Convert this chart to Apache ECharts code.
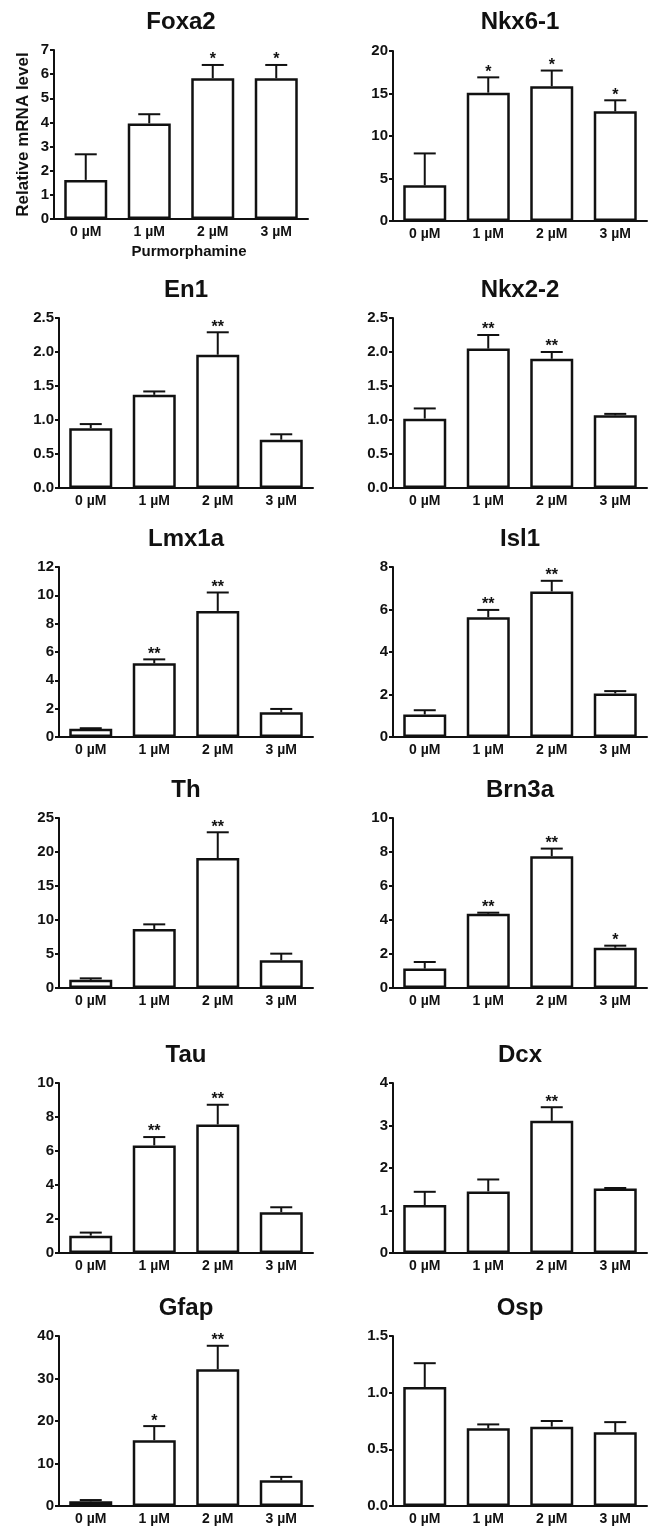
<!DOCTYPE html>
<html>
<head>
<meta charset="utf-8">
<script src="https://cdn.jsdelivr.net/npm/echarts@6/dist/echarts.min.js"></script>
<style>
html,body{margin:0;padding:0;background:#fff;}
#chart{width:650px;height:1526px;}
</style>
</head>
<body>
<div id="chart"></div>
<script>
// ---------- data ----------
const categories = ['0 µM', '1 µM', '2 µM', '3 µM'];
const xAxisTitle = 'Purmorphamine';
const yAxisTitle = 'Relative mRNA level';

const geneNames = ['Foxa2', 'Nkx6-1', 'En1', 'Nkx2-2', 'Lmx1a', 'Isl1', 'Th', 'Brn3a', 'Tau', 'Dcx', 'Gfap', 'Osp'];

const foxa2Mean = [1.62, 3.96, 5.83, 5.83];
const foxa2Sem  = [1.06, 0.38, 0.55, 0.55];
const foxa2Sig  = ['', '', '*', '*'];

const nkx61Mean = [4.2, 15.1, 15.85, 12.9];
const nkx61Sem  = [3.75, 1.8, 1.85, 1.3];
const nkx61Sig  = ['', '*', '*', '*'];

const en1Mean = [0.88, 1.37, 1.96, 0.71];
const en1Sem  = [0.06, 0.05, 0.33, 0.08];
const en1Sig  = ['', '', '**', ''];

const nkx22Mean = [1.02, 2.05, 1.90, 1.07];
const nkx22Sem  = [0.15, 0.20, 0.10, 0.02];
const nkx22Sig  = ['', '**', '**', ''];

const lmx1aMean = [0.59, 5.2, 8.9, 1.74];
const lmx1aSem  = [0.03, 0.28, 1.3, 0.24];
const lmx1aSig  = ['', '**', '**', ''];

const isl1Mean = [1.06, 5.64, 6.85, 2.05];
const isl1Sem  = [0.2, 0.34, 0.5, 0.11];
const isl1Sig  = ['', '**', '**', ''];

const thMean = [1.2, 8.68, 19.1, 4.07];
const thSem  = [0.22, 0.68, 3.8, 0.98];
const thSig  = ['', '', '**', ''];

const brn3aMean = [1.14, 4.37, 7.75, 2.37];
const brn3aSem  = [0.39, 0.06, 0.45, 0.12];
const brn3aSig  = ['', '**', '**', '*'];

const tauMean = [1.02, 6.33, 7.56, 2.4];
const tauSem  = [0.18, 0.49, 1.16, 0.29];
const tauSig  = ['', '**', '**', ''];

const dcxMean = [1.13, 1.45, 3.11, 1.52];
const dcxSem  = [0.31, 0.28, 0.32, 0.01];
const dcxSig  = ['', '', '**', ''];

const gfapMean = [1.1, 15.5, 32.2, 6.06];
const gfapSem  = [0.3, 3.3, 5.5, 0.79];
const gfapSig  = ['', '*', '**', ''];

const ospMean = [1.05, 0.685, 0.70, 0.65];
const ospSem  = [0.21, 0.035, 0.05, 0.09];
const ospSig  = ['', '', '', ''];

// y axis ranges (max) and tick intervals
const yMaxes    = [7, 20, 2.5, 2.5, 12, 8, 25, 10, 10, 4, 40, 1.5];
const yIntervals = [1, 5, 0.5, 0.5, 2, 2, 5, 2, 2, 1, 10, 0.5];

const means = [foxa2Mean, nkx61Mean, en1Mean, nkx22Mean, lmx1aMean, isl1Mean, thMean, brn3aMean, tauMean, dcxMean, gfapMean, ospMean];
const sems  = [foxa2Sem, nkx61Sem, en1Sem, nkx22Sem, lmx1aSem, isl1Sem, thSem, brn3aSem, tauSem, dcxSem, gfapSem, ospSem];
const sigs  = [foxa2Sig, nkx61Sig, en1Sig, nkx22Sig, lmx1aSig, isl1Sig, thSig, brn3aSig, tauSig, dcxSig, gfapSig, ospSig];

// ---------- layout ----------
const FONT = '"Liberation Sans", Arial, Helvetica, sans-serif';
const rowTops = [50, 318, 567, 818, 1083, 1336];
const gridH = 170;
const gridW = 254;
const leftX = [54, 59, 59, 59, 59, 59];
const rightX = 393;

const chart = echarts.init(document.getElementById('chart'), null, {renderer: 'canvas'});

const grids = [], xAxes = [], yAxes = [], series = [], titles = [];

for (let i = 0; i < 12; i++) {
  const row = Math.floor(i / 2), col = i % 2;
  const left = col === 0 ? leftX[row] : rightX;
  const top = rowTops[row] + (i === 1 ? 1 : 0);
  const h = (i === 0 ? gridH - 1 : gridH);
  grids.push({left: left, top: top, width: gridW, height: h, containLabel: false});

  titles.push({
    text: geneNames[i],
    left: left + gridW / 2,
    top: rowTops[row] - 40,
    textAlign: 'center',
    padding: 0,
    textStyle: {fontFamily: FONT, fontWeight: 'bold', fontSize: 24, color: '#111'}
  });

  const xa = {
    type: 'category', gridIndex: i, data: categories,
    axisLine: {lineStyle: {color: '#111', width: 2}},
    axisTick: {alignWithLabel: true, length: 5, lineStyle: {color: '#111', width: 2}},
    axisLabel: {fontFamily: FONT, fontWeight: 'bold', fontSize: 14, color: '#111', margin: 6},
    splitLine: {show: false}
  };
  if (i === 0) {
    xa.name = xAxisTitle;
    xa.nameLocation = 'middle';
    xa.nameGap = 25;
    xa.nameTextStyle = {fontFamily: FONT, fontWeight: 'bold', fontSize: 15, color: '#111', padding: [0, 0, 0, 16]};
  }
  xAxes.push(xa);

  const interval = yIntervals[i];
  const ya = {
    type: 'value', gridIndex: i, min: 0, max: yMaxes[i], interval: interval,
    axisLine: {show: true, lineStyle: {color: '#111', width: 2}},
    axisTick: {show: true, length: 4, lineStyle: {color: '#111', width: 2}},
    axisLabel: {
      fontFamily: FONT, fontWeight: 'bold', fontSize: 15, color: '#111', margin: 5,
      formatter: (v) => interval < 1 ? v.toFixed(1) : String(v)
    },
    splitLine: {show: false}
  };
  if (i === 0) {
    ya.name = yAxisTitle;
    ya.nameLocation = 'middle';
    ya.nameGap = 22;
    ya.nameTextStyle = {fontFamily: FONT, fontWeight: 'bold', fontSize: 17, color: '#111'};
  }
  yAxes.push(ya);

  series.push({
    type: 'bar', xAxisIndex: i, yAxisIndex: i,
    data: means[i],
    barWidth: 43,
    itemStyle: {color: '#fff', borderColor: '#111', borderWidth: 2.5},
    z: 2,
    silent: true
  });

  const sigArr = sigs[i];
  series.push({
    type: 'custom', xAxisIndex: i, yAxisIndex: i,
    data: means[i].map((m, k) => [k, m, sems[i][k]]),
    z: 3,
    silent: true,
    renderItem: function (params, api) {
      const x = api.value(0), m = api.value(1), e = api.value(2);
      const base = api.coord([x, m]);
      const tp = api.coord([x, m + e]);
      const half = 11;
      const children = [
        {type: 'line', shape: {x1: base[0], y1: base[1], x2: tp[0], y2: tp[1]}, style: {stroke: '#111', lineWidth: 2}},
        {type: 'line', shape: {x1: tp[0] - half, y1: tp[1], x2: tp[0] + half, y2: tp[1]}, style: {stroke: '#111', lineWidth: 2}}
      ];
      const s = sigArr[params.dataIndex];
      if (s) {
        children.push({
          type: 'text',
          style: {text: s, x: tp[0], y: tp[1] + 3, align: 'center', verticalAlign: 'bottom',
                  font: 'bold 16px ' + FONT, fill: '#111'}
        });
      }
      return {type: 'group', children: children};
    }
  });
}

chart.setOption({
  backgroundColor: '#fff',
  animation: false,
  title: titles,
  grid: grids,
  xAxis: xAxes,
  yAxis: yAxes,
  series: series
});
</script>
</body>
</html>
